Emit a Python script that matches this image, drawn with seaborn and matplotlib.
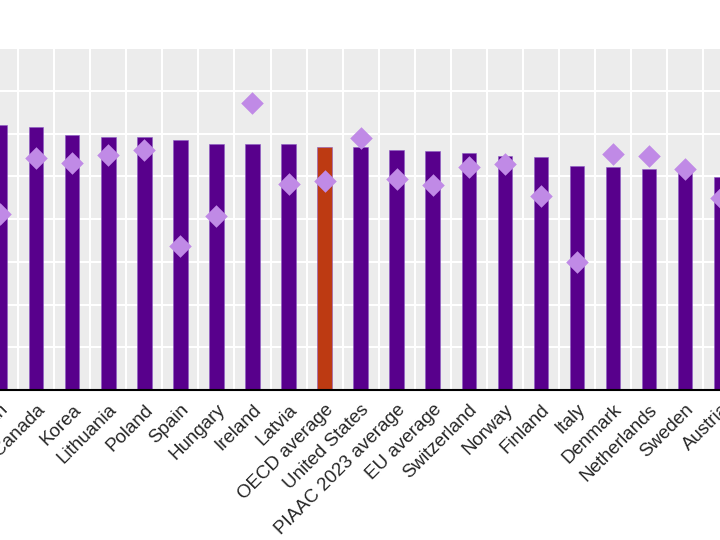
import matplotlib
matplotlib.use("Agg")
import matplotlib.pyplot as plt
import numpy as np
import seaborn as sns

countries = [
    "Japan", "Canada", "Korea", "Lithuania", "Poland", "Spain", "Hungary",
    "Ireland", "Latvia", "OECD average", "United States", "PIAAC 2023 average",
    "EU average", "Switzerland", "Norway", "Finland", "Italy", "Denmark",
    "Netherlands", "Sweden", "Austria",
]
bar_values = [
    62.0, 61.6, 59.7, 59.1, 59.1, 58.5, 57.6, 57.6, 57.5, 56.8, 56.8,
    56.2, 56.0, 55.4, 54.7, 54.5, 52.5, 52.1, 51.8, 51.6, 49.9,
]
diamond_values = [
    41.1, 54.3, 53.2, 54.9, 56.1, 33.7, 40.8, 67.2, 48.3, 48.9, 58.9,
    49.4, 47.9, 52.2, 52.9, 45.3, 30.0, 55.2, 54.8, 51.8, 44.8,
]
highlight = "OECD average"

BAR_COLOUR = "#58008c"
HIGHLIGHT_COLOUR = "#bd3a12"
DIAMOND_COLOUR = "#c08ae6"

sns.set_style("white")
plt.rcParams["font.family"] = ["Liberation Sans", "DejaVu Sans"]

n = len(countries)
step = 36.04  # pixels per category in the reference crop
fig = plt.figure(figsize=(7.2, 5.4), dpi=100)
# the reference is a crop of a wider chart: let the axes run past both edges
left_px = 0.2 - 0.5 * step
ax = fig.add_axes([left_px / 720, 150 / 540, n * step / 720, 342 / 540])
ax.set_facecolor("#ececec")

palette = {c: (HIGHLIGHT_COLOUR if c == highlight else BAR_COLOUR) for c in countries}
sns.barplot(x=countries, y=bar_values, hue=countries, palette=palette,
            legend=False, width=0.4, saturation=1, edgecolor="#8d5cc4",
            linewidth=0.4, ax=ax, zorder=2)
sns.stripplot(x=countries, y=diamond_values, jitter=False, marker="D",
              color=DIAMOND_COLOUR, size=11.5, linewidth=0, ax=ax, zorder=3)

ax.set_yticks(np.arange(0, 81, 10))
ax.set_yticklabels([])
ax.tick_params(axis="y", length=0)

ax.set_xticks(np.arange(n))
ax.set_xticklabels(countries, rotation=45, ha="right", va="top",
                   rotation_mode="anchor", fontsize=13.5)
ax.set_xticks(np.arange(n + 1) - 0.5, minor=True)
ax.tick_params(axis="x", which="major", length=0, pad=8)
ax.tick_params(axis="x", which="minor", direction="in", length=5,
               width=1, color="black")

ax.set_xlim(-0.5, n - 0.5)
ax.set_ylim(0, 80)

ax.grid(axis="y", color="white", linewidth=1.5, zorder=0)
ax.grid(axis="x", which="minor", color="white", linewidth=1.5, zorder=0)
ax.set_axisbelow(True)

for side in ["top", "left", "right"]:
    ax.spines[side].set_visible(False)
ax.spines["bottom"].set_color("black")
ax.spines["bottom"].set_linewidth(1.5)
ax.set_xlabel("")
ax.set_ylabel("")

fig.savefig("out.png", dpi=100)
